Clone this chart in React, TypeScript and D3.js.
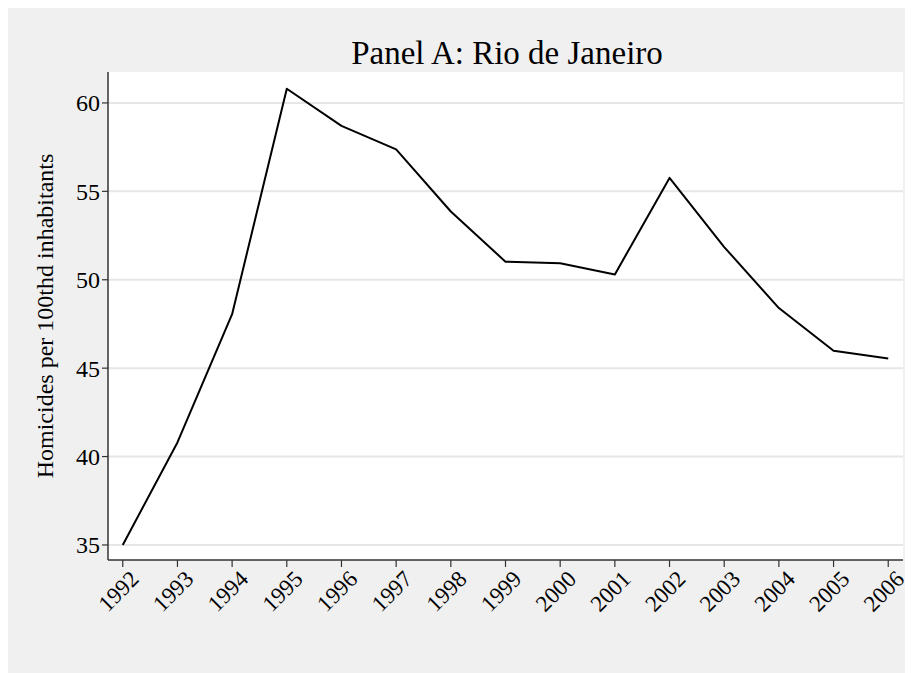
import React from "react";
import * as d3 from "d3";

const years = [1992, 1993, 1994, 1995, 1996, 1997, 1998, 1999, 2000, 2001, 2002, 2003, 2004, 2005, 2006];
const homicides = [35.0, 40.8, 48.05, 60.8, 58.7, 57.37, 53.86, 51.02, 50.93, 50.3, 55.76, 51.85, 48.4, 45.98, 45.54];
const yTicks = [35, 40, 45, 50, 55, 60];
const title = "Panel A: Rio de Janeiro";
const yLabel = "Homicides per 100thd inhabitants";

const W = 905;
const H = 665;
const plot = { left: 100, right: 895, top: 64, bottom: 552 };
const font = "'Liberation Serif', 'Times New Roman', serif";

export default function App() {
  const x = d3.scaleLinear().domain([1991.73, 2006.27]).range([plot.left, plot.right]);
  const y = d3.scaleLinear().domain([34.15, 61.75]).range([plot.bottom, plot.top]);
  const line = d3
    .line<number>()
    .x((_, i) => x(years[i]))
    .y((d) => y(d));
  return (
    <svg width={W} height={H} style={{ display: "block" }}>
      <rect x={0} y={0} width={W} height={H} fill="#f0f0f0" />
      <rect x={plot.left} y={plot.top} width={plot.right - plot.left} height={plot.bottom - plot.top} fill="#ffffff" />
      {yTicks.map((t) => (
        <line key={"g" + t} x1={plot.left} x2={plot.right} y1={y(t)} y2={y(t)} stroke="#e6e6e6" strokeWidth={2} />
      ))}
      <text x={499} y={56} textAnchor="middle" fontSize={33} fill="#000" style={{ fontFamily: font }}>
        {title}
      </text>
      <path d={line(homicides) || ""} fill="none" stroke="#000" strokeWidth={2} strokeLinejoin="round" />
      <line x1={plot.left} x2={plot.left} y1={plot.top} y2={plot.bottom} stroke="#333" strokeWidth={1.5} />
      <line x1={plot.left} x2={plot.right} y1={plot.bottom} y2={plot.bottom} stroke="#333" strokeWidth={1.5} />
      {yTicks.map((t) => (
        <g key={"y" + t}>
          <line x1={plot.left - 6} x2={plot.left} y1={y(t)} y2={y(t)} stroke="#333" strokeWidth={1.2} />
          <text
            x={plot.left - 8}
            y={y(t)}
            dy="0.35em"
            textAnchor="end"
            fontSize={24}
            fill="#000"
            style={{ fontFamily: font }}
          >
            {t}
          </text>
        </g>
      ))}
      {years.map((yr) => (
        <g key={"x" + yr}>
          <line x1={x(yr)} x2={x(yr)} y1={plot.bottom} y2={plot.bottom + 7} stroke="#333" strokeWidth={1.2} />
          <text
            transform={`translate(${x(yr) + 6},${plot.bottom + 9}) rotate(-45)`}
            textAnchor="end"
            dy="0.7em"
            fontSize={23}
            fill="#000"
            style={{ fontFamily: font }}
          >
            {yr}
          </text>
        </g>
      ))}
      <text
        transform={`translate(${45},${(plot.top + plot.bottom) / 2}) rotate(-90)`}
        textAnchor="middle"
        fontSize={24}
        fill="#000"
        style={{ fontFamily: font }}
      >
        {yLabel}
      </text>
    </svg>
  );
}
